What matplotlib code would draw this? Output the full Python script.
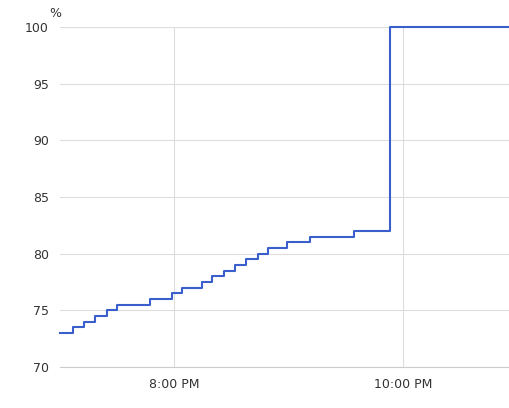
import matplotlib
matplotlib.use("Agg")
import matplotlib.pyplot as plt
import matplotlib.dates as mdates
from datetime import datetime, timedelta

minutes = [0, 6.8, 12.6, 18.3, 24.6, 29.9, 47.2, 58.7, 63.9, 74.4, 79.7, 85.9, 91.7,
           97.5, 103.8, 109.0, 118.9, 131.0, 154.1, 172.9, 235.3]
values = [73, 73.5, 74, 74.5, 75, 75.5, 76, 76.5, 77, 77.5, 78, 78.5, 79,
          79.5, 80, 80.5, 81, 81.5, 82, 100, 100]
yticks = [70, 75, 80, 85, 90, 95, 100]

t0 = datetime(2024, 1, 1, 19, 0)
times = [t0 + timedelta(minutes=m) for m in minutes]

fig = plt.figure(figsize=(5.09, 4.08), dpi=100)
ax = fig.add_axes([60/509, 41/408, 449/509, 340/408])
ax.step(times, values, where="post", color="#3a5fcd", lw=1.5, zorder=3, clip_on=False)
ax.set_ylim(70, 100)
ax.set_xlim(times[0], times[-1])
ax.set_yticks(yticks)
ax.xaxis.set_major_locator(mdates.HourLocator(byhour=[20, 22]))
ax.xaxis.set_major_formatter(mdates.DateFormatter("%-I:%M %p"))
ax.grid(True, color="#dddddd", lw=0.8, zorder=0)
for s in ["top", "right", "left"]:
    ax.spines[s].set_visible(False)
ax.spines["bottom"].set_color("#cccccc")
ax.tick_params(length=0, labelsize=9, colors="#333333", pad=8)
ax.text(-0.01, 1.03, "%", transform=ax.transAxes, fontsize=9, ha="center", color="#333333")
fig.savefig("out.png", dpi=100)
